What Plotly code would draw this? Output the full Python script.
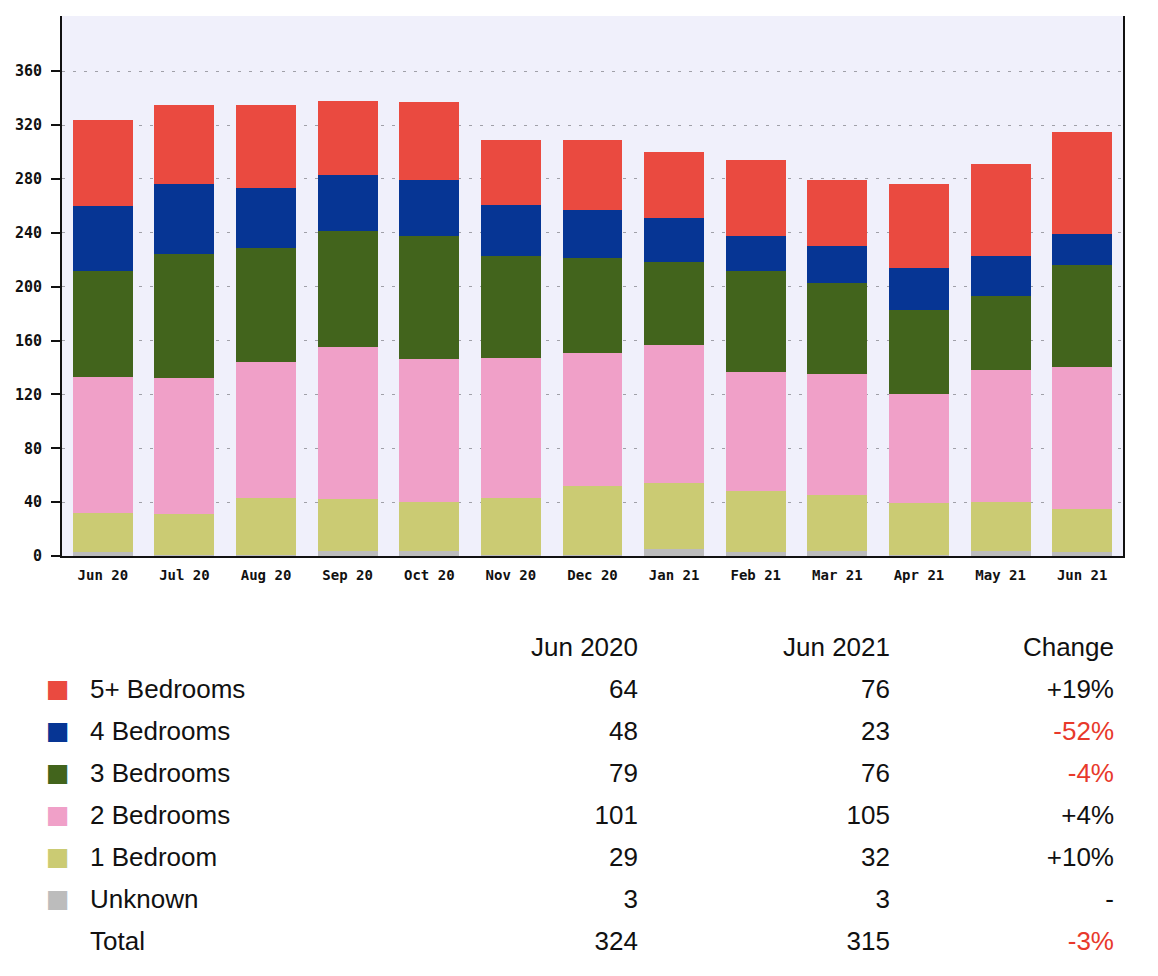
import plotly.graph_objects as go

# monthly listings by bedroom count (stacked, bottom to top)
MONTHS = ["Jun 20", "Jul 20", "Aug 20", "Sep 20", "Oct 20", "Nov 20", "Dec 20",
          "Jan 21", "Feb 21", "Mar 21", "Apr 21", "May 21", "Jun 21"]
UNKNOWN = [3, 1, 1, 4, 4, 1, 1, 5, 3, 4, 1, 4, 3]
BED_1 = [29, 30, 42, 38, 36, 42, 51, 49, 45, 41, 38, 36, 32]
BED_2 = [101, 101, 101, 113, 106, 104, 99, 103, 89, 90, 81, 98, 105]
BED_3 = [79, 92, 85, 86, 92, 76, 70, 61, 75, 68, 63, 55, 76]
BED_4 = [48, 52, 44, 42, 41, 38, 36, 33, 26, 27, 31, 30, 23]
BED_5 = [64, 59, 62, 55, 58, 48, 52, 49, 56, 49, 62, 68, 76]

Y_TICKS = [0, 40, 80, 120, 160, 200, 240, 280, 320, 360]

# summary table
TABLE_LABELS = ["5+ Bedrooms", "4 Bedrooms", "3 Bedrooms", "2 Bedrooms",
                "1 Bedroom", "Unknown", "Total"]
JUN_2020 = [64, 48, 79, 101, 29, 3, 324]
JUN_2021 = [76, 23, 76, 105, 32, 3, 315]
CHANGE = ["+19%", "-52%", "-4%", "+4%", "+10%", "-", "-3%"]

COLORS = {
    "Unknown": "#bcbcbc",
    "1 Bedroom": "#cbcb73",
    "2 Bedrooms": "#f0a0c8",
    "3 Bedrooms": "#42641c",
    "4 Bedrooms": "#063594",
    "5+ Bedrooms": "#ea4a40",
}

series = [
    ("Unknown", UNKNOWN),
    ("1 Bedroom", BED_1),
    ("2 Bedrooms", BED_2),
    ("3 Bedrooms", BED_3),
    ("4 Bedrooms", BED_4),
    ("5+ Bedrooms", BED_5),
]

W, H = 1150, 968  # page body adds an 8px margin

fig = go.Figure()
for name, vals in series:
    fig.add_trace(go.Bar(
        x=MONTHS, y=vals, name=name,
        marker={"color": COLORS[name], "line": {"width": 0}},
        hoverinfo="x+y+name",
    ))

swatches = ["■" if lab in COLORS else "" for lab in TABLE_LABELS]
swatch_colors = [COLORS.get(lab, "white") for lab in TABLE_LABELS]
text_col = ["#111111"] * len(TABLE_LABELS)
change_colors = ["#e8392b" if c.startswith("-") and c != "-" else "#111111" for c in CHANGE]
sans = "Liberation Sans, Arial, sans-serif"

fig.add_trace(go.Table(
    domain={"x": [30 / W, 1114 / W], "y": [0, 348 / H]},
    columnwidth=[44, 300, 264, 252, 224],
    header={
        "values": ["", "", "Jun 2020", "Jun 2021", "Change"],
        "align": ["left", "left", "right", "right", "right"],
        "fill": {"color": "white"},
        "line": {"color": "white", "width": 0},
        "font": {"family": sans, "size": 26, "color": "#111111"},
        "height": 42,
    },
    cells={
        "values": [swatches, TABLE_LABELS, JUN_2020, JUN_2021, CHANGE],
        "align": ["left", "left", "right", "right", "right"],
        "fill": {"color": "white"},
        "line": {"color": "white", "width": 0},
        "font": {
            "family": ["DejaVu Sans", sans, sans, sans, sans],
            "size": [25, 26, 26, 26, 26],
            "color": [swatch_colors, text_col, text_col, text_col, change_colors],
        },
        "height": 42,
    },
))

fig.update_layout(
    width=W, height=H,
    margin={"l": 0, "r": 0, "t": 0, "b": 0},
    barmode="stack",
    bargap=0.265,
    showlegend=False,
    paper_bgcolor="white",
    plot_bgcolor="#f0f0fb",
    xaxis={
        "domain": [54 / W, 1115 / W],
        "automargin": False,
        "showline": True, "linecolor": "#111111", "linewidth": 2,
        "ticks": "", "showgrid": False,
        "tickfont": {"family": "DejaVu Sans Mono", "size": 14, "color": "#111111", "weight": "bold"},
        "ticklabelstandoff": 5,
    },
    yaxis={
        "domain": [420 / H, 960 / H],
        "automargin": False,
        "range": [0, 401],
        "tickvals": Y_TICKS,
        "showline": True, "linecolor": "#111111", "linewidth": 2, "mirror": True,
        "ticks": "outside", "ticklen": 9, "tickwidth": 2, "tickcolor": "#111111",
        "showgrid": True, "gridcolor": "#a0a0a8", "gridwidth": 1, "griddash": "3px,8px",
        "zeroline": False,
        "tickfont": {"family": "DejaVu Sans Mono", "size": 15, "color": "#111111", "weight": "bold"},
        "ticklabelstandoff": 6,
    },
)

fig.write_html("out.html")
